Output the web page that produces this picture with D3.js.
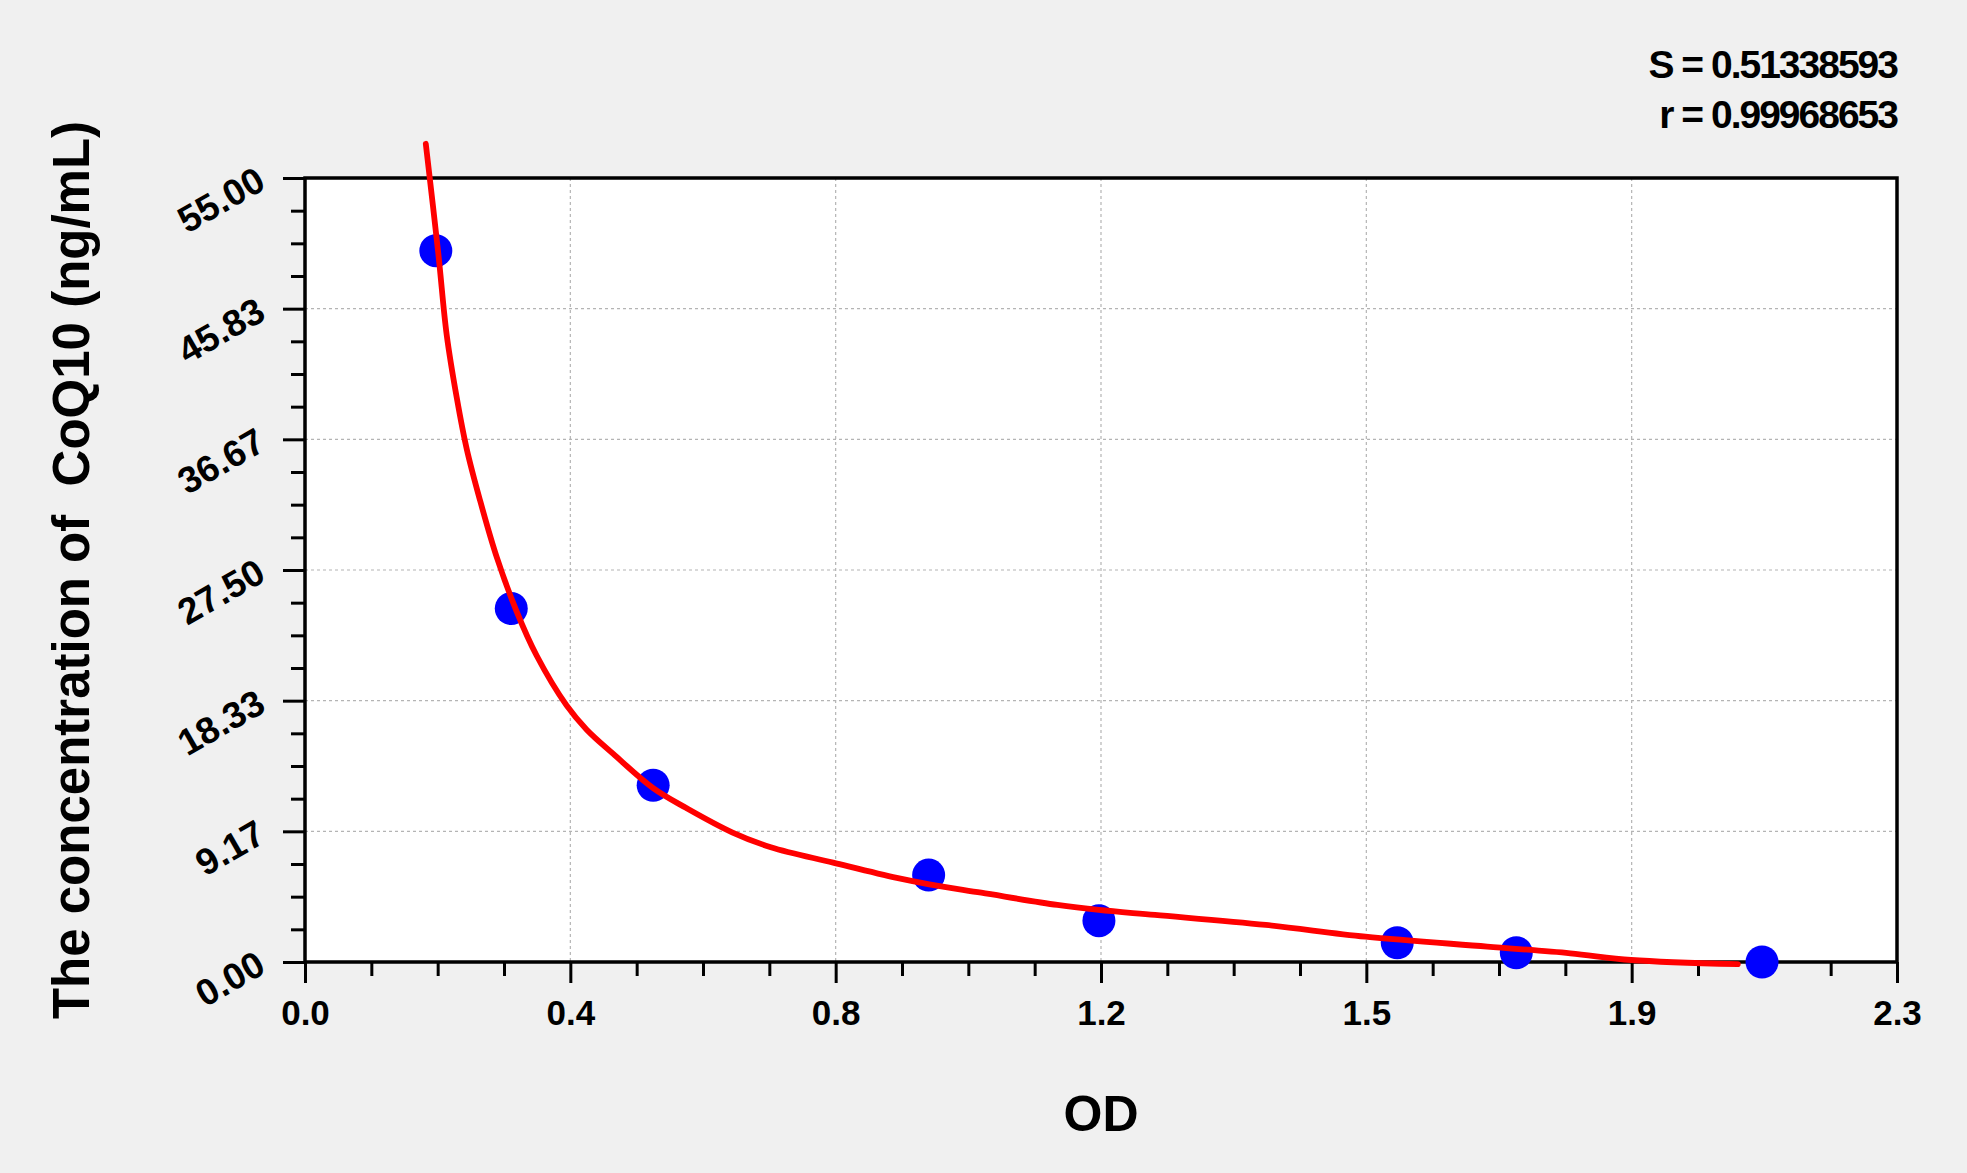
<!DOCTYPE html>
<html>
<head>
<meta charset="utf-8">
<script src="https://cdnjs.cloudflare.com/ajax/libs/d3/7.8.5/d3.min.js"></script>
<style>
    body{margin:0;background:#f0f0f0;}
    svg{display:block;font-family:"Liberation Sans",Arial,sans-serif;font-weight:bold;}
</style>
</head>
<body>
<svg width="1967" height="1173"></svg>
<script>

//Standard points
var odValues=[0.189,0.298,0.503,0.901,1.147,1.578,1.750,2.105];
var concValues=[49.9,24.8,12.4,6.1,2.9,1.35,0.65,0.0];

//Fitted curve, sampled along the red line
var curveOd=[0.1745,0.1926,0.2047,0.2192,0.2336,0.2528,0.2770,0.3057,0.3346,0.3779,0.407,0.4454,0.503,0.551,0.617,0.673,0.763,0.855,0.902,0.977,1.087,1.147,1.228,1.388,1.532,1.708,1.828,1.916,2.07];
var curveConc=[57.4,49.7,44.0,39.6,36.0,32.4,28.4,24.6,21.5,18.0,16.3,14.6,12.2,10.8,9.1,8.05,6.97,5.9,5.45,4.86,4.0,3.65,3.30,2.60,1.78,1.08,0.61,0.14,-0.15];

//Axes
var xMax=2.3, yMax=55;
var xTickLabels=["0.0","0.4","0.8","1.2","1.5","1.9","2.3"];
var yTickLabels=["0.00","9.17","18.33","27.50","36.67","45.83","55.00"];
var statLines=["S = 0.51338593","r = 0.99968653"];

var xTitle="OD";
var yTitle="The concentration of  CoQ10 (ng/mL)";

var margin={left:305,top:178,right:70,bottom:211};
var width=1967-margin.left-margin.right;
var height=1173-margin.top-margin.bottom;

var svg=d3.select("svg");
var g=svg.append("g").attr("transform","translate("+margin.left+","+margin.top+")");

var x=d3.scaleLinear().domain([0,xMax]).range([0,width]);
var y=d3.scaleLinear().domain([0,yMax]).range([height,0]);

var majorX=d3.range(7).map(function(i){return xMax*i/6;});
var majorY=d3.range(7).map(function(i){return yMax*i/6;});
var minorX=d3.range(25).map(function(i){return xMax*i/24;}).filter(function(d,i){return i%4!=0;});
var minorY=d3.range(25).map(function(i){return yMax*i/24;}).filter(function(d,i){return i%4!=0;});

//plot area
g.append("rect").attr("width",width).attr("height",height).style("fill","#fff");

//grid
g.selectAll("line.vgrid")
    .data(majorX.slice(1,6))
    .enter().append("line")
    .attr("class","vgrid")
    .attr("x1",function(d){return x(d);}).attr("x2",function(d){return x(d);})
    .attr("y1",0).attr("y2",height)
    .attr("stroke","#b4b4b4").attr("stroke-width",1.2).attr("stroke-dasharray","3,3");

g.selectAll("line.hgrid")
    .data(majorY.slice(1,6))
    .enter().append("line")
    .attr("class","hgrid")
    .attr("y1",function(d){return y(d);}).attr("y2",function(d){return y(d);})
    .attr("x1",0).attr("x2",width)
    .attr("stroke","#b4b4b4").attr("stroke-width",1.2).attr("stroke-dasharray","3,3");

//minor ticks
var xMinor=g.append("g").attr("transform","translate(0,"+height+")")
    .call(d3.axisBottom(x).tickValues(minorX).tickSize(14).tickFormat(""));
var yMinor=g.append("g")
    .call(d3.axisLeft(y).tickValues(minorY).tickSize(14).tickFormat(""));

//major ticks + labels
var xAxis=g.append("g").attr("transform","translate(0,"+height+")")
    .call(d3.axisBottom(x).tickValues(majorX).tickSize(21).tickPadding(17)
        .tickFormat(function(d,i){return xTickLabels[i];}));
var yAxis=g.append("g")
    .call(d3.axisLeft(y).tickValues(majorY).tickSize(22)
        .tickFormat(function(d,i){return yTickLabels[i];}));

[xMinor,yMinor,xAxis,yAxis].forEach(function(a){
    a.select(".domain").remove();
    a.selectAll(".tick line").attr("stroke","#000").attr("stroke-width",3);
});

xAxis.selectAll("text")
    .style("font-size","35px").style("font-family","inherit").style("font-weight","bold").attr("fill","#000");

yAxis.selectAll("text")
    .attr("x",null).attr("dy","0.35em")
    .attr("transform","translate(-44,-2) rotate(-30)")
    .style("font-size","37px").style("font-family","inherit").style("font-weight","bold").attr("fill","#000");

//frame
g.append("rect").attr("width",width).attr("height",height)
    .style("fill","none").attr("stroke","#000").attr("stroke-width",3.5);

//standard points
g.selectAll("circle.pt")
    .data(odValues)
    .enter().append("circle")
    .attr("class","pt")
    .attr("cx",function(d){return x(d);})
    .attr("cy",function(d,i){return y(concValues[i]);})
    .attr("r",16.5)
    .style("fill","#0000ff");

//fitted curve
var line=d3.line()
    .x(function(d){return x(d);})
    .y(function(d,i){return y(curveConc[i]);})
    .curve(d3.curveCatmullRom.alpha(0.5));

g.append("path")
    .datum(curveOd)
    .attr("d",line)
    .style("fill","none")
    .attr("stroke","#ff0000")
    .attr("stroke-width",5.8)
    .attr("stroke-linecap","round");

//titles
svg.append("text")
    .attr("x",margin.left+width/2).attr("y",1131)
    .attr("text-anchor","middle")
    .style("font-size","50px")
    .text(xTitle);

svg.append("text")
    .attr("transform","translate(89,"+(margin.top+height/2)+") rotate(-90)")
    .attr("text-anchor","middle")
    .style("font-size","51px")
    .style("white-space","pre")
    .text(yTitle);

//fit statistics
svg.selectAll("text.stat")
    .data(statLines)
    .enter().append("text")
    .attr("class","stat")
    .attr("x",1897)
    .attr("y",function(d,i){return 78+i*50;})
    .attr("text-anchor","end")
    .style("font-size","39px")
    .style("letter-spacing","-2px")
    .text(function(d){return d;});

</script>
</body>
</html>
